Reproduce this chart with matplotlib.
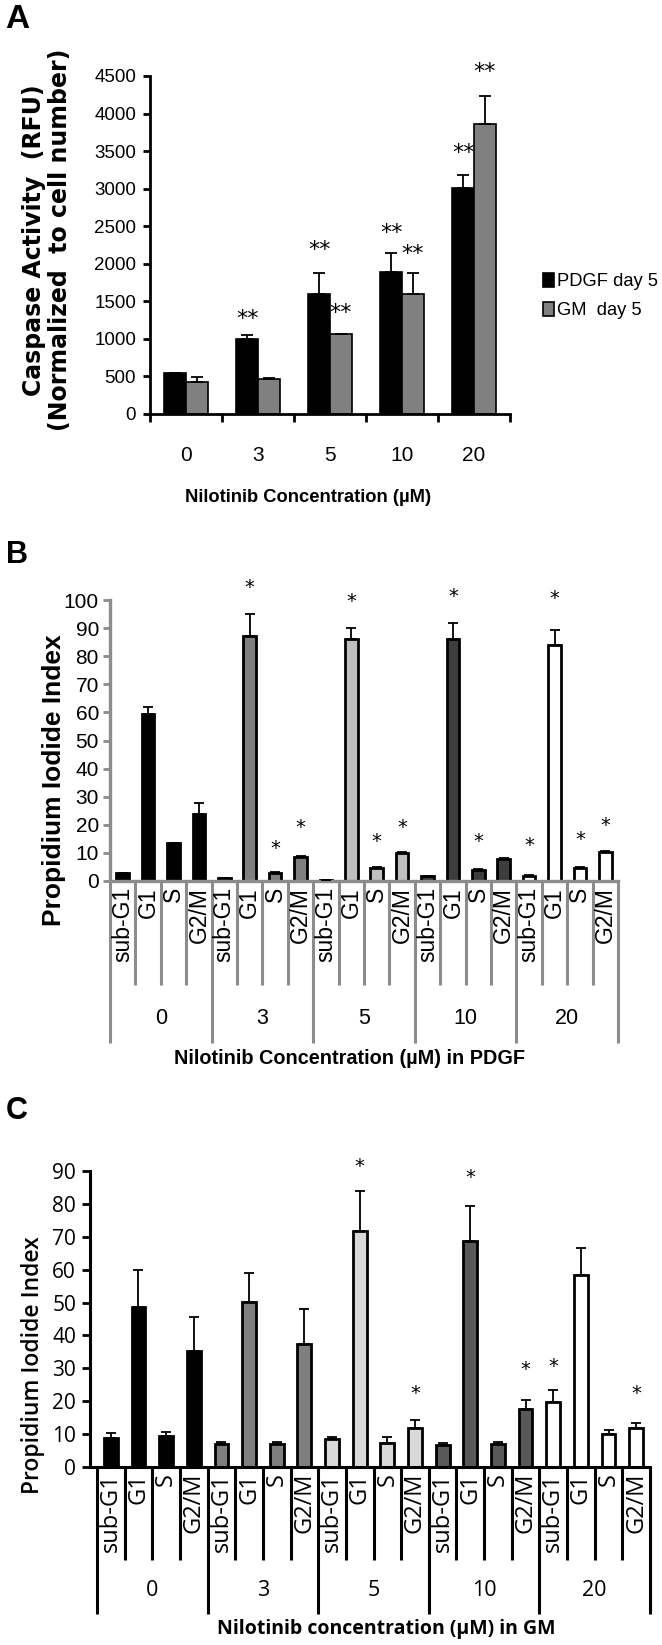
import matplotlib
matplotlib.use('Agg')
import matplotlib.pyplot as plt
import numpy as np
from matplotlib.transforms import blended_transform_factory as btf
from matplotlib.transforms import offset_copy

# ---------------- Panel A data ----------------
conc = ['0', '3', '5', '10', '20']
pdgf_mean = [550, 994, 1600, 1890, 3013]
pdgf_err = [0, 62, 280, 255, 172]
gm_mean = [431, 462, 1060, 1600, 3862]
gm_err = [57, 13, 10, 280, 370]
a_star_pdgf = ['', '**', '**', '**', '**']
a_star_pdgf_y = [0, 1358, 2276, 2502, 3567]
a_star_gm = ['', '', '**', '**', '**']
a_star_gm_y = [0, 0, 1437, 2223, 4645]
a_series = ['PDGF day 5', 'GM  day 5']

# ---------------- Panel B data ----------------
phases = ['sub-G1', 'G1', 'S', 'G2/M']
b_0 = [2.7, 59.3, 13.6, 24.0]
b_3 = [0.9, 87.2, 2.7, 8.7]
b_5 = [0.5, 86.0, 4.5, 9.8]
b_10 = [1.8, 86.0, 3.9, 7.8]
b_20 = [1.8, 83.9, 4.5, 10.4]
b_err_0 = [0, 2.6, 0, 3.8]
b_err_3 = [0, 7.8, 0.4, 0.3]
b_err_5 = [0, 4.0, 0.4, 0.4]
b_err_10 = [0, 5.8, 0.3, 0.3]
b_err_20 = [0.2, 5.6, 0.4, 0.4]
b_star_0 = ['', '', '', '']
b_star_3 = ['', '*', '*', '*']
b_star_5 = ['', '*', '*', '*']
b_star_10 = ['', '*', '*', '']
b_star_20 = ['*', '*', '*', '*']
b_star_y_0 = [0, 0, 0, 0]
b_star_y_3 = [0, 104.6, 11.7, 18.9]
b_star_y_5 = [0, 99.3, 13.9, 19.2]
b_star_y_10 = [0, 101.1, 13.9, 0]
b_star_y_20 = [12.8, 100.4, 14.6, 19.9]

# ---------------- Panel C data ----------------
c_0 = [8.8, 48.6, 9.3, 35.3]
c_3 = [7.0, 50.3, 7.0, 37.4]
c_5 = [8.6, 71.9, 7.4, 11.9]
c_10 = [6.6, 68.8, 7.0, 17.7]
c_20 = [19.8, 58.3, 10.1, 11.9]
c_err_0 = [1.5, 11.3, 1.4, 10.4]
c_err_3 = [0.6, 8.8, 0.6, 10.6]
c_err_5 = [0.6, 11.9, 1.7, 2.4]
c_err_10 = [0.7, 10.7, 0.6, 2.8]
c_err_20 = [3.5, 8.3, 1.1, 1.6]
c_star_0 = ['', '', '', '']
c_star_3 = ['', '', '', '']
c_star_5 = ['', '*', '', '*']
c_star_10 = ['', '*', '', '*']
c_star_20 = ['*', '', '', '*']
c_star_y_0 = [0, 0, 0, 0]
c_star_y_3 = [0, 0, 0, 0]
c_star_y_5 = [0, 91.5, 0, 22.5]
c_star_y_10 = [0, 88.1, 0, 29.5]
c_star_y_20 = [30.7, 0, 0, 22.5]

W, H = 662, 1645
fig = plt.figure(figsize=(W / 100, H / 100), dpi=100)


def fx(x):
    return x / W


def fy(y):
    return 1 - y / H


def rect(l, t, r, b):
    return [fx(l), fy(b), (r - l) / W, (b - t) / H]


ARIAL = ['Liberation Sans', 'DejaVu Sans']
OPEN = ['Open Sans', 'DejaVu Sans']

# ================= Panel A =================
axA = fig.add_axes(rect(150, 76, 510, 414))
xa = np.arange(len(conc))
bw = 0.3
bp = axA.bar(xa - bw / 2, pdgf_mean, bw, color='black', edgecolor='black',
             linewidth=1.2, label=a_series[0], zorder=2)
bg = axA.bar(xa + bw / 2, gm_mean, bw, color='#808080', edgecolor='black',
             linewidth=1.2, label=a_series[1], zorder=2)
axA.errorbar(xa - bw / 2, pdgf_mean, yerr=[np.zeros(5), pdgf_err], fmt='none',
             ecolor='black', elinewidth=1.3, capsize=4, capthick=1.3, zorder=3)
axA.errorbar(xa + bw / 2, gm_mean, yerr=[np.zeros(5), gm_err], fmt='none',
             ecolor='black', elinewidth=1.3, capsize=4, capthick=1.3, zorder=3)
star_tr_A = offset_copy(axA.transData, fig=fig, x=0, y=-7, units='dots')
for i in range(len(conc)):
    if a_star_pdgf[i]:
        axA.text(i - bw / 2, a_star_pdgf_y[i], a_star_pdgf[i], ha='center',
                 va='center', fontsize=16, family='DejaVu Sans', clip_on=False,
                 transform=star_tr_A)
    if a_star_gm[i]:
        axA.text(i + bw / 2, a_star_gm_y[i], a_star_gm[i], ha='center',
                 va='center', fontsize=16, family='DejaVu Sans', clip_on=False,
                 transform=star_tr_A)
axA.set_xlim(-0.5, 4.5)
axA.set_ylim(0, 4500)
axA.set_yticks(np.arange(0, 4501, 500))
axA.set_yticklabels([str(v) for v in range(0, 4501, 500)], family=ARIAL, fontsize=13.5)
axA.set_xticks(xa)
axA.set_xticklabels(conc, family=ARIAL, fontsize=15)
axA.set_xticks(np.arange(-0.5, 5, 1), minor=True)
axA.tick_params(axis='x', which='major', length=0, pad=23)
axA.tick_params(axis='x', which='minor', length=6, width=2, direction='out')
axA.tick_params(axis='y', length=5, width=2, direction='out', pad=5)
for s in ['top', 'right']:
    axA.spines[s].set_visible(False)
axA.spines['left'].set_linewidth(2)
axA.spines['bottom'].set_linewidth(2)
axA.legend(handles=[bp, bg], loc='center left',
           bbox_to_anchor=(fx(534), fy(296)), bbox_transform=fig.transFigure,
           frameon=False, prop={'family': ARIAL, 'size': 13.2},
           handlelength=0.6, handleheight=0.8, handletextpad=0.15,
           labelspacing=0.65, borderpad=0)
fig.text(fx(34), fy(240), 'Caspase Activity  (RFU)', rotation=90, ha='center',
         va='center', fontsize=17, fontweight='bold', family='DejaVu Sans')
fig.text(fx(60), fy(240), '(Normalized  to cell number)', rotation=90, ha='center',
         va='center', fontsize=17, fontweight='bold', family='DejaVu Sans')
fig.text(fx(308), fy(497), 'Nilotinib Concentration (\u00b5M)', ha='center',
         va='center', fontsize=13.2, fontweight='bold', family=ARIAL)
fig.text(fx(5), fy(20), 'A', ha='left', va='center', fontsize=24,
         fontweight='bold', family=ARIAL)


# ================= multi-level panels =================
def multilevel(ax, groups, vals, errs, stars, star_y, colors, spine_col,
               sub_bot, grp_bot, grp_lab_y, sub_top, font, sub_fs, grp_fs,
               lw_sep, bar_w, edge_lw):
    n = len(phases)
    tr = btf(ax.transData, ax.transAxes)
    for g in range(len(groups)):
        x = g * n + np.arange(n)
        ax.bar(x, vals[g], bar_w, color=colors[g], edgecolor='black',
               linewidth=edge_lw, zorder=2)
        ax.errorbar(x, vals[g], yerr=[np.zeros(n), errs[g]], fmt='none',
                    ecolor='black', elinewidth=1.3, capsize=3.5, capthick=1.3,
                    zorder=3)
        for k in range(n):
            if stars[g][k]:
                ax.text(x[k], star_y[g][k], stars[g][k], ha='center',
                        va='center', fontsize=14, family='DejaVu Sans',
                        clip_on=False)
            ax.text(x[k], sub_top, phases[k], transform=tr, rotation=90,
                    ha='center', va='top', fontsize=sub_fs, family=font)
        ax.text(g * n + (n - 1) / 2, grp_lab_y, groups[g], transform=tr,
                ha='center', va='center', fontsize=grp_fs, family=font)
    total = n * len(groups)
    for b in range(total + 1):
        xb = b - 0.5
        bot = grp_bot if b % n == 0 else sub_bot
        ax.plot([xb, xb], [0, bot], transform=tr, color=spine_col,
                lw=lw_sep, clip_on=False, solid_capstyle='butt')


conc_groups = ['0', '3', '5', '10', '20']

# ================= Panel B =================
axB = fig.add_axes(rect(110, 600, 618, 881))
gcol_B = ['#000000', '#808080', '#bfbfbf', '#3d3d3d', '#ffffff']
axB_h = 881 - 600
multilevel(axB, conc_groups, [b_0, b_3, b_5, b_10, b_20],
           [b_err_0, b_err_3, b_err_5, b_err_10, b_err_20],
           [b_star_0, b_star_3, b_star_5, b_star_10, b_star_20],
           [b_star_y_0, b_star_y_3, b_star_y_5, b_star_y_10, b_star_y_20],
           gcol_B, '#8c8c8c',
           -(985 - 881) / axB_h, -(1043 - 881) / axB_h, -(1018 - 881) / axB_h,
           -(887 - 881) / axB_h, ARIAL, 16.5, 15.5, 2.2, 0.5, 2)
axB.set_xlim(-0.5, 19.5)
axB.set_ylim(0, 100)
axB.set_yticks(np.arange(0, 101, 10))
axB.set_yticklabels([str(v) for v in range(0, 101, 10)], family=ARIAL, fontsize=15)
axB.set_xticks([])
axB.tick_params(axis='y', length=5, width=2, color='#8c8c8c', direction='out', pad=3)
for s in ['top', 'right']:
    axB.spines[s].set_visible(False)
for s in ['left', 'bottom']:
    axB.spines[s].set_linewidth(2.4)
    axB.spines[s].set_color('#8c8c8c')
fig.text(fx(54), fy(780), 'Propidium Iodide Index', rotation=90, ha='center',
         va='center', fontsize=19, fontweight='bold', family=ARIAL)
fig.text(fx(350), fy(1058), 'Nilotinib Concentration (\u00b5M) in PDGF',
         ha='center', va='center', fontsize=14.3, fontweight='bold', family=ARIAL)
fig.text(fx(6), fy(555), 'B', ha='left', va='center', fontsize=22,
         fontweight='bold', family=ARIAL)

# ================= Panel C =================
slotC = (650 - 97) / 20.0
axC = fig.add_axes(rect(90, 1171, 650, 1467))
gcol_C = ['#000000', '#7f7f7f', '#d9d9d9', '#595959', '#ffffff']
axC_h = 1467 - 1171
multilevel(axC, conc_groups, [c_0, c_3, c_5, c_10, c_20],
           [c_err_0, c_err_3, c_err_5, c_err_10, c_err_20],
           [c_star_0, c_star_3, c_star_5, c_star_10, c_star_20],
           [c_star_y_0, c_star_y_3, c_star_y_5, c_star_y_10, c_star_y_20],
           gcol_C, 'black',
           -(1560 - 1467) / axC_h, -(1614 - 1467) / axC_h, -(1590 - 1467) / axC_h,
           -(1473 - 1467) / axC_h, OPEN, 17, 15.5, 2.2, 0.5, 2)
axC.set_xlim(-0.5 - 7 / slotC, 19.5)
axC.set_ylim(0, 90)
axC.set_yticks(np.arange(0, 91, 10))
axC.set_yticklabels([str(v) for v in range(0, 91, 10)], family=OPEN, fontsize=15)
axC.set_xticks([])
axC.tick_params(axis='y', length=6, width=2, color='black', direction='out', pad=4)
for s in ['top', 'right']:
    axC.spines[s].set_visible(False)
for s in ['left', 'bottom']:
    axC.spines[s].set_linewidth(2.2)
    axC.spines[s].set_color('black')
fig.text(fx(33), fy(1365), 'Propidium Iodide Index', rotation=90, ha='center',
         va='center', fontsize=16.5, fontweight='semibold', family=OPEN)
fig.text(fx(386), fy(1629), 'Nilotinib concentration (\u00b5M) in GM',
         ha='center', va='center', fontsize=14, fontweight='bold', family=OPEN)
fig.text(fx(6), fy(1111), 'C', ha='left', va='center', fontsize=22,
         fontweight='bold', family=ARIAL)

fig.savefig('out.png', dpi=100)
